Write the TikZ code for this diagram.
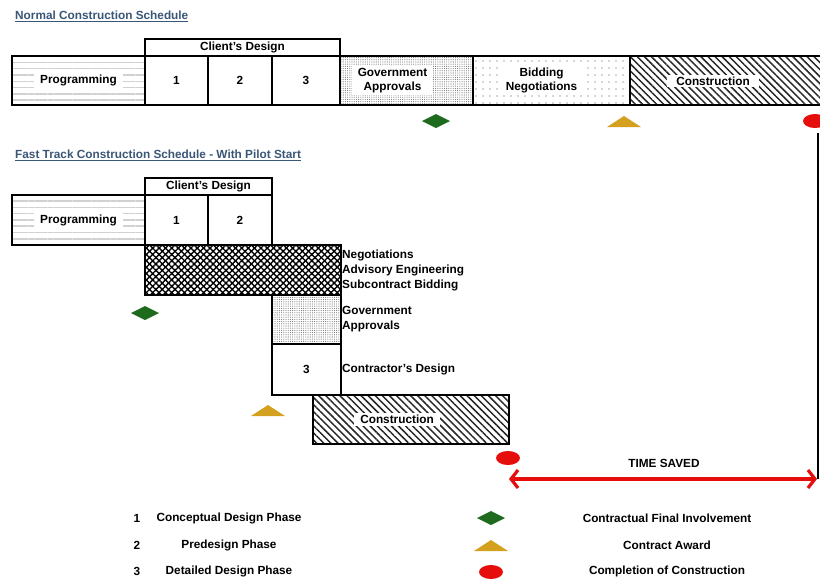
\documentclass[tikz,border=0pt]{standalone}
\usepackage{fontspec}
\setmainfont{Liberation Sans}
\usetikzlibrary{positioning,patterns.meta,arrows.meta}
\definecolor{titleblue}{HTML}{3A5676}
\definecolor{markgreen}{HTML}{1E6B1E}
\definecolor{markgold}{HTML}{D4A11E}
\definecolor{markred}{HTML}{E60D0D}
\tikzset{
  every node/.style={font=\fontsize{11.8}{14}\selectfont\bfseries},
  phase/.style={draw, rectangle, line width=2.2pt, inner sep=0pt, outer sep=0pt, minimum height=49pt},
  header/.style={phase, minimum height=17pt},
  txtbg/.style={fill=white, inner xsep=6pt, inner ysep=2pt, align=center},
  progfill/.style={pattern={Lines[angle=0,distance=6.3pt,line width=1.5pt]}, pattern color=black!18},
  govfill/.style={pattern={Dots[distance=2.2pt,radius=0.55pt]}, pattern color=black!55},
  bidfill/.style={pattern={Dots[distance=7pt,radius=0.7pt]}, pattern color=black!70},
  consfill/.style={pattern={Lines[angle=-45,distance=5pt,line width=1.5pt]}, pattern color=black!85},
  negofill/.style={preaction={pattern={Lines[angle=45,distance=4.5pt,line width=1.4pt]}, pattern color=black},
    pattern={Lines[angle=-45,distance=4.5pt,line width=1.4pt]}, pattern color=black},
  sidenote/.style={anchor=west, align=left, inner sep=1pt, font=\fontsize{11.8}{15}\selectfont\bfseries},
  timesaved/.style={draw=markred, line width=3.2pt,
    arrows={Straight Barb[length=7pt,width=18pt]-Straight Barb[length=7pt,width=18pt]}},
  pics/finalinv/.style={code={\fill[markgreen] (-14,0) -- (0,-7) -- (14,0) -- (0,7) -- cycle;}},
  pics/award/.style={code={\fill[markgold] (-17,5) -- (17,5) -- (0,-6) -- cycle;}},
  pics/complete/.style={code={\fill[markred] (0,0) ellipse [x radius=12, y radius=7];}},
}
\begin{document}
\begin{tikzpicture}[x=1pt, y=-1pt]
\useasboundingbox (0,0) rectangle (820,579);
\node[anchor=west, text=titleblue, inner sep=1pt] (normtitle) at (14,16) {\underline{Normal Construction Schedule}};
\node[phase, progfill, minimum width=133pt, anchor=north west] (prog) at (12,56) {};
\node[phase, minimum width=63pt, right=0pt of prog] (d1) {1};
\node[phase, minimum width=64pt, right=0pt of d1] (d2) {2};
\node[phase, minimum width=68pt, right=0pt of d2] (d3) {3};
\node[header, minimum width=195pt, anchor=south west] (cdesign) at (d1.north west) {Client's Design};
\node[phase, govfill, minimum width=133pt, right=0pt of d3] (gov) {};
\node[phase, bidfill, minimum width=157pt, right=0pt of gov] (bid) {};
\node[phase, consfill, minimum width=210pt, right=0pt of bid] (cons) {};
\node[txtbg] (progtxt) at (prog) {Programming};
\node[txtbg, xshift=-14pt] (govtxt) at (gov) {Government\\Approvals};
\node[txtbg, xshift=-10pt] (bidtxt) at (bid) {Bidding\\Negotiations};
\node[txtbg, inner xsep=9pt] (constxt) at (713,81) {Construction};
\pic at (436,121) {finalinv};
\pic at (624,122) {award};
\pic at (815,121) {complete};

\node[anchor=west, text=titleblue, inner sep=1pt] (fasttitle) at (14,155) {\underline{Fast Track Construction Schedule - With Pilot Start}};
\node[phase, progfill, minimum width=133pt, minimum height=50pt, anchor=north west] (fprog) at (12,195) {};
\node[phase, minimum width=63pt, minimum height=50pt, right=0pt of fprog] (fd1) {1};
\node[phase, minimum width=64pt, minimum height=50pt, right=0pt of fd1] (fd2) {2};
\node[header, minimum width=127pt, anchor=south west] (fcdesign) at (fd1.north west) {Client's Design};
\node[txtbg] (fprogtxt) at (fprog) {Programming};
\node[phase, negofill, minimum width=196pt, minimum height=50pt, anchor=north west] (nego) at (fd1.south west) {};
\node[phase, govfill, minimum width=69pt, anchor=north east] (fgov) at (nego.south east) {};
\node[phase, minimum width=69pt, minimum height=51pt, below=0pt of fgov] (fd3) {3};
\node[phase, consfill, minimum width=196pt, below right=0pt and -28pt of fd3] (fcons) {};
\node[txtbg, xshift=-14pt] (fconstxt) at (fcons) {Construction};
\node[sidenote] (negonote) at (nego.east) {Negotiations\\Advisory Engineering\\Subcontract Bidding};
\node[sidenote] (govnote) at (fgov.east) {Government\\Approvals};
\node[sidenote] (fd3note) at (fd3.east) {Contractor's Design};
\pic at (145,313) {finalinv};
\pic at (268,411) {award};
\pic at (508,458) {complete};

\coordinate (savedl) at (509,479);
\coordinate (savedr) at (817,479);
\coordinate (endtop) at (818,133);
\draw[line width=1.3pt] (endtop) -- (endtop |- savedr);
\draw[timesaved] (savedl) -- (savedr);
\node (savedtxt) at (664,463) {TIME SAVED};

\foreach \n/\y/\txt in {1/518/Conceptual Design Phase, 2/545/Predesign Phase, 3/571/Detailed Design Phase}{
  \node (num\n) at (137,\y) {\n};
  \node (phasename\n) at (229,\y) {\txt};
}
\foreach \m/\y/\ty/\txt in {finalinv/518/518/Contractual Final Involvement, award/546/545/Contract Award, complete/572/571/Completion of Construction}{
  \pic at (491,\y) {\m};
  \node (key\m) at (667,\ty) {\txt};
}
\end{tikzpicture}
\end{document}
